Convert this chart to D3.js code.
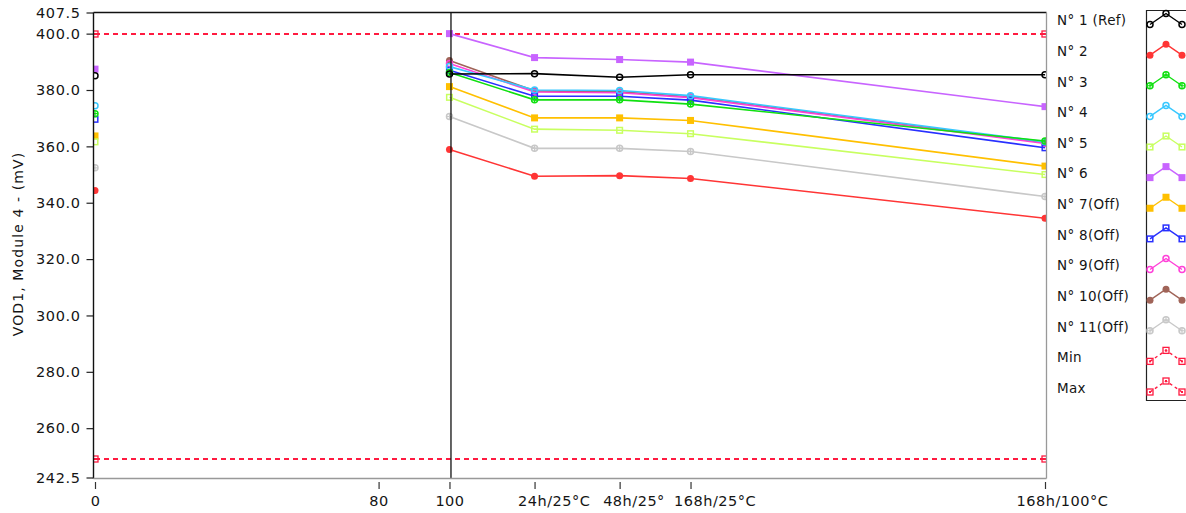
<!DOCTYPE html>
<html><head><meta charset="utf-8">
<script src="https://cdn.jsdelivr.net/npm/d3@7"></script>
<style>body{margin:0;background:#fff;} text{font-family:"DejaVu Sans",sans-serif;}</style>
</head><body>
<script>
// ---------- data ----------
const xPositions = [0, 100, 124, 148, 168, 268];
const xTickValues = [0, 80, 100, 124, 148, 168, 268];
const xTickLabels = ['0', '80', '100', '24h/25°C', '48h/25°C', '168h/25°C', '168h/100°C'];
const yTickValues = [242.5, 260, 280, 300, 320, 340, 360, 380, 400, 407.5];
const cursorX = 100;

const seriesNames = ['N° 1 (Ref)', 'N° 2', 'N° 3', 'N° 4', 'N° 5', 'N° 6', 'N° 7(Off)', 'N° 8(Off)', 'N° 9(Off)', 'N° 10(Off)', 'N° 11(Off)'];
const n1  = [385.1, 385.7, 385.8, 384.5, 385.4, 385.4];
const n2  = [344.3, 358.9, 349.4, 349.6, 348.6, 334.5];
const n3  = [371.6, 386.2, 376.5, 376.5, 375.0, 361.9];
const n4  = [374.4, 388.3, 380.0, 379.8, 378.0, 361.6];
const n5  = [361.6, 377.4, 366.1, 365.7, 364.5, 350.0];
const n6  = [387.4, 400.0, 391.5, 390.8, 389.9, 374.1];
const n7  = [363.7, 381.2, 370.1, 370.1, 369.2, 353.0];
const n8  = [369.6, 387.0, 377.8, 377.8, 376.4, 359.5];
const n9  = [null, 389.4, 379.3, 379.0, 377.3, 361.0];
const n10 = [null, 390.5, 379.7, 379.4, 377.6, 361.3];
const n11 = [352.4, 370.6, 359.3, 359.3, 358.2, 342.2];
const seriesValues = [n1, n2, n3, n4, n5, n6, n7, n8, n9, n10, n11];
const seriesColors = ['#000000', '#ff3535', '#10e010', '#38c8ff', '#c8ff60', '#c864ff', '#ffc000', '#2830ff', '#ff40d8', '#a06458', '#c8c8c8'];
const seriesMarkers = ['circleOpen', 'circleFill', 'circleCross', 'circleOpen', 'squareOpen', 'squareFill', 'squareFill', 'squareOpen', 'circleOpen', 'circleFill', 'circleCross'];

const limitNames = ['Min', 'Max'];
const limitX = [0, 268];
const minValues = [249, 249];
const maxValues = [400, 400];
const limitColor = '#ff1a40';

// ---------- layout ----------
const W = 1186, H = 513;
const svg = d3.select('body').append('svg').attr('width', W).attr('height', H);
const x = d3.scaleLinear().domain([0, 268]).range([95, 1045]);
const y = d3.scaleLinear().domain([242.5, 407.5]).range([477.5, 12.5]);
const plotL = 93.5, plotR = 1046.5, plotT = 12.5, plotB = 478.5;
const TXT = '#151515';

svg.append('defs').append('clipPath').attr('id', 'clip')
  .append('rect').attr('x', plotL + 0.5).attr('y', plotT).attr('width', plotR - plotL - 1).attr('height', plotB - plotT);

function marker(g, type, color, cx, cy, s) {
  s = s || 3.5;
  if (type === 'circleOpen') {
    g.append('circle').attr('cx', cx).attr('cy', cy).attr('r', s - 0.5).attr('fill', 'none').attr('stroke', color).attr('stroke-width', 1.5);
  } else if (type === 'circleFill') {
    g.append('circle').attr('cx', cx).attr('cy', cy).attr('r', s).attr('fill', color);
  } else if (type === 'circleCross') {
    g.append('circle').attr('cx', cx).attr('cy', cy).attr('r', s - 0.5).attr('fill', 'none').attr('stroke', color).attr('stroke-width', 1.5);
    g.append('path').attr('d', `M${cx - s + 0.5},${cy}H${cx + s - 0.5}M${cx},${cy - s + 0.5}V${cy + s - 0.5}`).attr('stroke', color).attr('stroke-width', 1.2);
  } else if (type === 'squareOpen') {
    g.append('rect').attr('x', cx - s + 0.7).attr('y', cy - s + 0.7).attr('width', 2 * s - 1.4).attr('height', 2 * s - 1.4).attr('fill', 'none').attr('stroke', color).attr('stroke-width', 1.5);
  } else if (type === 'squareFill') {
    g.append('rect').attr('x', cx - s).attr('y', cy - s).attr('width', 2 * s).attr('height', 2 * s).attr('fill', color);
  } else if (type === 'squareDot') {
    g.append('rect').attr('x', cx - 3).attr('y', cy - 3).attr('width', 6).attr('height', 6).attr('fill', 'none').attr('stroke', color).attr('stroke-width', 1.3);
    g.append('rect').attr('x', cx - 1).attr('y', cy - 1).attr('width', 2).attr('height', 2).attr('fill', color);
  }
}

// ---------- axes ----------
const yAxis = d3.axisLeft(y).tickValues(yTickValues).tickFormat(d3.format('.1f')).tickSize(7).tickSizeOuter(0).tickPadding(6);
const gy = svg.append('g').attr('transform', `translate(${plotL},0)`).call(yAxis);
gy.select('.domain').remove();
gy.selectAll('.tick line').attr('stroke', '#222').attr('stroke-width', 1.2);
gy.selectAll('.tick text').attr('font-size', 14.5).attr('fill', TXT).attr('font-family', 'DejaVu Sans').attr('letter-spacing', 0.6);

const xAxis = d3.axisBottom(x).tickValues(xTickValues).tickFormat((d, i) => xTickLabels[i]).tickSize(7).tickSizeOuter(0);
const gx = svg.append('g').attr('transform', `translate(0,482)`).call(xAxis);
gx.select('.domain').remove();
gx.selectAll('.tick line').attr('stroke', '#333').attr('stroke-width', 1.2);
gx.selectAll('.tick text').attr('font-size', 14.5).attr('fill', TXT).attr('font-family', 'DejaVu Sans').attr('letter-spacing', 0.5)
  .attr('y', 24).attr('dy', 0)
  .each(function (d, i) {
    const t = d3.select(this);
    const lab = xTickLabels[i];
    if (isNaN(+lab)) {
      if (i === xTickLabels.length - 1) { t.attr('text-anchor', 'middle').attr('x', 17); }
      else { t.attr('text-anchor', 'start').attr('x', -17); }
    }
  });
// white backing so later labels cover earlier ones
gx.selectAll('.tick').each(function () {
  const tk = d3.select(this);
  const bb = tk.select('text').node().getBBox();
  tk.insert('rect', 'text').attr('x', bb.x - 10).attr('y', bb.y).attr('width', bb.width + 10).attr('height', bb.height).attr('fill', '#fff');
});

// axis title
svg.append('text').attr('transform', 'translate(23,244) rotate(-90)').attr('text-anchor', 'middle')
  .attr('font-size', 14).attr('letter-spacing', 1.1).attr('fill', TXT).text('VOD1, Module 4 - (mV)');

// ---------- plot ----------
const plot = svg.append('g').attr('clip-path', 'url(#clip)');

// limits
[minValues, maxValues].forEach(vals => {
  const pts = limitX.map((xv, i) => [x(xv), Math.round(y(vals[i]))]);
  plot.append('path').attr('d', d3.line()(pts)).attr('fill', 'none').attr('stroke', limitColor).attr('stroke-width', 2)
    .attr('stroke-dasharray', '5,4');
  pts.forEach(p => marker(plot, 'squareDot', limitColor, p[0], p[1]));
});

// series: first series drawn last (on top)
const line = d3.line().defined(d => d[1] != null).x(d => x(d[0])).y(d => y(d[1]));
seriesValues.map((v, i) => i).reverse().forEach(si => {
  const vals = seriesValues[si];
  const g = plot.append('g');
  const pts = xPositions.map((xv, i) => [xv, vals[i]]).slice(1);
  g.append('path').attr('d', line(pts)).attr('fill', 'none').attr('stroke', seriesColors[si]).attr('stroke-width', 1.6);
  xPositions.forEach((xv, i) => {
    if (vals[i] != null) marker(g, seriesMarkers[si], seriesColors[si], x(xv), y(vals[i]));
  });
});

// cursor line
plot.append('line').attr('x1', x(cursorX) + 1.5).attr('x2', x(cursorX) + 1.5).attr('y1', plotT).attr('y2', plotB).attr('stroke', '#111').attr('stroke-width', 1.3);

// frame
svg.append('line').attr('x1', plotL).attr('x2', plotL).attr('y1', plotT).attr('y2', plotB).attr('stroke', '#111').attr('stroke-width', 1.4);
svg.append('line').attr('x1', plotL).attr('x2', plotR).attr('y1', plotT).attr('y2', plotT).attr('stroke', '#111').attr('stroke-width', 1.3);
svg.append('line').attr('x1', plotL).attr('x2', plotR).attr('y1', plotB).attr('y2', plotB).attr('stroke', '#999').attr('stroke-width', 1.3);
svg.append('line').attr('x1', plotR).attr('x2', plotR).attr('y1', plotT).attr('y2', plotB).attr('stroke', '#999').attr('stroke-width', 1.3);

// ---------- legend ----------
const legNames = seriesNames.concat(limitNames);
const legColors = seriesColors.concat([limitColor, limitColor]);
const legMarkers = seriesMarkers.concat(['squareDot', 'squareDot']);
const legY = d3.scaleLinear().domain([0, legNames.length - 1]).range([20.5, 388]);
const leg = svg.append('g');
leg.append('path').attr('d', `M${W + 5},10.5H1146.5V400.5H${W + 5}`).attr('fill', 'none').attr('stroke', '#222').attr('stroke-width', 1.2);
legNames.forEach((nm, i) => {
  const cy = legY(i);
  leg.append('text').attr('x', 1057).attr('y', cy).attr('dy', '0.36em').attr('font-size', 13.5).attr('letter-spacing', 0.3).attr('fill', TXT).text(nm);
  const pts = [[1150, cy + 4], [1166, cy - 7], [1182, cy + 4]];
  const isLim = i >= seriesNames.length;
  leg.append('path').attr('d', d3.line()(pts)).attr('fill', 'none').attr('stroke', legColors[i]).attr('stroke-width', 1.4)
    .attr('stroke-dasharray', isLim ? '3,3' : null);
  pts.forEach(p => marker(leg, legMarkers[i], legColors[i], p[0], p[1]));
});
</script>
</body></html>
